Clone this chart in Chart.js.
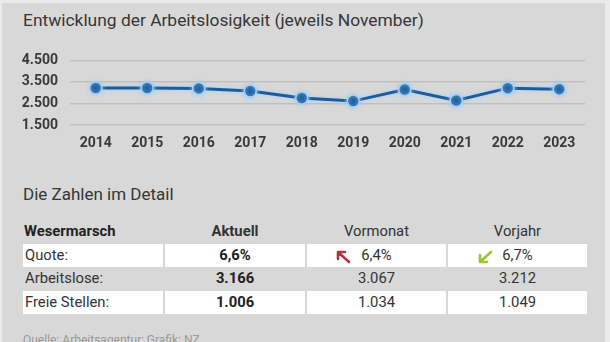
<!DOCTYPE html>
<html><head><meta charset="utf-8">
<script src="https://cdn.jsdelivr.net/npm/chart.js@4/dist/chart.umd.min.js"></script>
<style>
html,body{margin:0;padding:0;}
body{width:610px;height:342px;background:#ebebeb;position:relative;overflow:hidden;font-family:Roboto,"Open Sans",sans-serif;color:#333;}
#panel{position:absolute;left:2px;top:3px;width:603px;height:345px;background:#d8d8d8;}
.abs{position:absolute;white-space:nowrap;}
#title{left:23px;top:10px;font-size:17.4px;color:#363636;}
#sub{left:23px;top:184px;font-size:17px;color:#363636;}
#chartbox{position:absolute;left:0;top:40px;width:610px;height:115px;}
.cell{position:absolute;background:#fff;}
.t{position:absolute;font-size:14.8px;line-height:23px;height:23px;white-space:nowrap;}
.b{font-weight:bold;}
#foot{left:23px;top:333px;font-size:12px;color:#9a9a9a;}
</style></head>
<body>
<div id="panel"></div>
<div id="title" class="abs">Entwicklung der Arbeitslosigkeit (jeweils November)</div>
<div id="chartbox"><canvas id="c" width="610" height="115"></canvas></div>
<div id="sub" class="abs">Die Zahlen im Detail</div>
<div id="table"></div>
<div id="foot" class="abs">Quelle: Arbeitsagentur; Grafik: NZ</div>
<script>
// ---- data ----
const years = ['2014','2015','2016','2017','2018','2019','2020','2021','2022','2023'];
const unemployed = [3220, 3220, 3200, 3080, 2750, 2610, 3150, 2640, 3212, 3166];
const yTickValues = [1500, 2500, 3500, 4500];
const yTickLabels = ['1.500', '2.500', '3.500', '4.500'];

const tableHeader = ['Wesermarsch', 'Aktuell', 'Vormonat', 'Vorjahr'];
const rowLabels = ['Quote:', 'Arbeitslose:', 'Freie Stellen:'];
const aktuell = ['6,6%', '3.166', '1.006'];
const vormonat = ['6,4%', '3.067', '1.034'];
const vorjahr = ['6,7%', '3.212', '1.049'];
const trendVormonat = 'up';   // arrow in Quote row
const trendVorjahr = 'down';

// ---- table ----
const cols = [{l:23,w:140},{l:165,w:140},{l:307,w:139},{l:448,w:139}];
const rowTops = [244, 267, 291];
const whiteRows = [0, 2];
const tbl = document.getElementById('table');
function add(html){ tbl.insertAdjacentHTML('beforeend', html); }
whiteRows.forEach(r => cols.forEach(c => add(`<div class="cell" style="left:${c.l}px;top:${rowTops[r]}px;width:${c.w}px;height:23px"></div>`)));
// header
add(`<div class="t b" style="left:24px;top:220px;color:#222">${tableHeader[0]}</div>`);
for (let i=1;i<4;i++){
  add(`<div class="t ${i===1?'b':''}" style="left:${cols[i].l}px;width:${cols[i].w}px;text-align:center;top:220px;color:#333">${tableHeader[i]}</div>`);
}
const arrowUp = '<svg width="15" height="14" viewBox="0 0 15 14"><path d="M13 12 L3 3 M2 2 L9 2 M2 2 L2 9" stroke="#b2323f" stroke-width="2.6" fill="none" stroke-linecap="round"/></svg>';
const arrowDown = '<svg width="15" height="14" viewBox="0 0 15 14"><path d="M13 2 L3 11 M2 12 L9 12 M2 12 L2 5" stroke="#9cc62e" stroke-width="2.6" fill="none" stroke-linecap="round"/></svg>';
for (let r=0;r<3;r++){
  const top = rowTops[r];
  add(`<div class="t" style="left:25px;top:${top}px">${rowLabels[r]}</div>`);
  add(`<div class="t b" style="left:${cols[1].l}px;width:${cols[1].w}px;text-align:center;top:${top}px;color:#222">${aktuell[r]}</div>`);
  add(`<div class="t" style="left:${cols[2].l}px;width:${cols[2].w}px;text-align:center;top:${top}px">${vormonat[r]}</div>`);
  add(`<div class="t" style="left:${cols[3].l}px;width:${cols[3].w}px;text-align:center;top:${top}px">${vorjahr[r]}</div>`);
}
add(`<div class="abs" style="left:336px;top:249px">${trendVormonat==='up'?arrowUp:arrowDown}</div>`);
add(`<div class="abs" style="left:478px;top:249px">${trendVorjahr==='up'?arrowUp:arrowDown}</div>`);

// ---- chart ----
const glow = {
  id:'glow',
  beforeDatasetDraw(chart){ const ctx=chart.ctx; ctx.save(); ctx.shadowColor='rgba(160,205,245,0.95)'; ctx.shadowBlur=4; },
  afterDatasetDraw(chart){ chart.ctx.restore(); }
};
new Chart(document.getElementById('c'), {
  type:'line',
  data:{ labels: years, datasets:[{
    label:'Arbeitslose',
    data: unemployed,
    borderColor:'#1c5c9c',
    borderWidth:3,
    pointRadius:6,
    pointHoverRadius:6,
    pointBackgroundColor:'#1a5d9e',
    pointBorderColor:'#a6d0f2',
    pointBorderWidth:1.5,
    tension:0
  }]},
  options:{
    responsive:false,
    animation:false,
    devicePixelRatio:1,
    layout:{padding:{left:0,right:25,top:12,bottom:0}},
    plugins:{legend:{display:false},tooltip:{enabled:false},title:{display:false}},
    scales:{
      x:{
        offset:true,
        grid:{display:false,drawTicks:false},
        border:{display:false},
        ticks:{color:'#3a3a3a',font:{family:'Roboto',size:14,weight:'bold'},padding:10,maxRotation:0},
        afterFit(s){ s.height=30; }
      },
      y:{
        min:1500,max:4500,
        afterBuildTicks(s){ s.ticks = yTickValues.map(v=>({value:v})); },
        grid:{color:'#bfbfbf',lineWidth:1.5,drawTicks:false},
        border:{display:false},
        ticks:{color:'#3a3a3a',font:{family:'Roboto',size:14,weight:'bold'},padding:12,
          callback(v){ const i=yTickValues.indexOf(v); return i>=0?yTickLabels[i]:''; }},
        afterFit(s){ s.width=70; }
      }
    }
  },
  plugins:[glow]
});
</script>
</body></html>
